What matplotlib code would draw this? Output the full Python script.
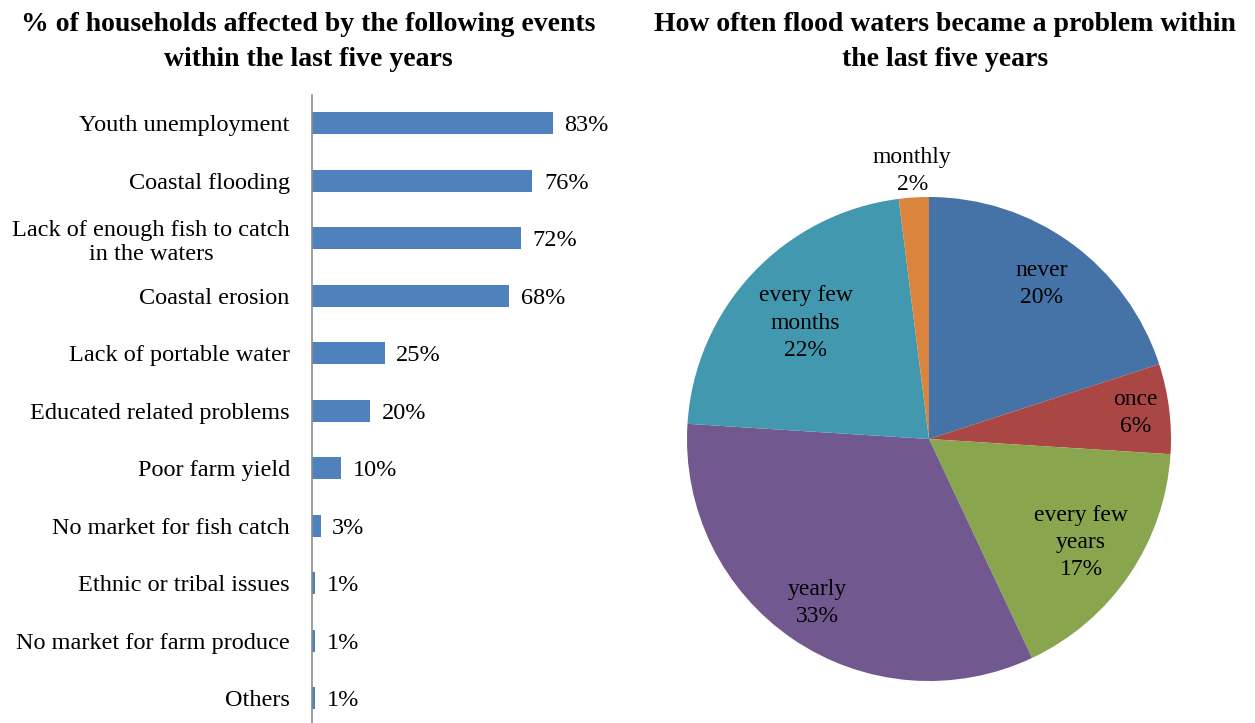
import matplotlib
matplotlib.use("Agg")
import matplotlib.pyplot as plt
import numpy as np

plt.rcParams['font.family'] = ['Liberation Serif', 'DejaVu Serif']

# Household events (top to bottom)
events = [
    "Youth unemployment",
    "Coastal flooding",
    "Lack of enough fish to catch\nin the waters",
    "Coastal erosion",
    "Lack of portable water",
    "Educated related problems",
    "Poor farm yield",
    "No market for fish catch",
    "Ethnic or tribal issues",
    "No market for farm produce",
    "Others",
]
event_pct = [83, 76, 72, 68, 25, 20, 10, 3, 1, 1, 1]

# Flood frequency shares
flood_labels = ["never", "once", "every few\nyears", "yearly", "every few\nmonths", "monthly"]
flood_pct = [20, 6, 17, 33, 22, 2]
flood_colors = ["#4572A7", "#AA4643", "#89A54E", "#71588F", "#4198AF", "#DB843D"]
label_radius = [0.79, 0.86, 0.76, 0.82, 0.70, 1.11]

W, H = 1255, 723
fig = plt.figure(figsize=(W / 100, H / 100), dpi=100)


def px_box(x0, y_top, w, h):
    return [x0 / W, 1 - (y_top + h) / H, w / W, h / H]


# ---- Bar chart ----
ax = fig.add_axes(px_box(312, 94.5, 290, 632.5))
y = np.arange(len(events))
ax.barh(y, event_pct, height=0.39, color="#4F81BD", edgecolor="none")
ax.set_xlim(0, 100)
ax.set_ylim(len(events) - 0.5, -0.5)
ax.set_yticks(y)
ax.set_yticklabels(events, fontsize=17.5, linespacing=1.22)
for lbl in ax.get_yticklabels():
    lbl.set_multialignment("center")
ax.tick_params(axis="y", length=0, pad=16)
ax.set_xticks([])
for s in ["top", "right", "bottom"]:
    ax.spines[s].set_visible(False)
ax.spines["left"].set_color("#8C8C8C")
ax.spines["left"].set_linewidth(1.2)
for yi, v in zip(y, event_pct):
    ax.text(v + 4, yi, f"{v}%", va="center_baseline", ha="left", fontsize=17.5)

fig.text(308 / W, 1 - 42 / H,
         "% of households affected by the following events\nwithin the last five years",
         ha="center", va="center", fontsize=20, fontweight="bold", linespacing=1.5)

# ---- Pie chart ----
R = 242
cx, cy = 929, 439
pax = fig.add_axes(px_box(cx - R, cy - R, 2 * R, 2 * R))
wedges, _ = pax.pie(flood_pct, colors=flood_colors, startangle=90, counterclock=False,
                    radius=1.0, wedgeprops=dict(linewidth=0))
pax.set_xlim(-1, 1)
pax.set_ylim(-1, 1)
for w, lab, p, r in zip(wedges, flood_labels, flood_pct, label_radius):
    ang = np.deg2rad((w.theta1 + w.theta2) / 2)
    pax.text(r * np.cos(ang), r * np.sin(ang), f"{lab}\n{p}%",
             ha="center", va="center", fontsize=17, linespacing=1.38)

fig.text(945 / W, 1 - 42 / H,
         "How often flood waters became a problem within\nthe last five years",
         ha="center", va="center", fontsize=20, fontweight="bold", linespacing=1.5)

fig.savefig("out.png", dpi=100, facecolor="white")
